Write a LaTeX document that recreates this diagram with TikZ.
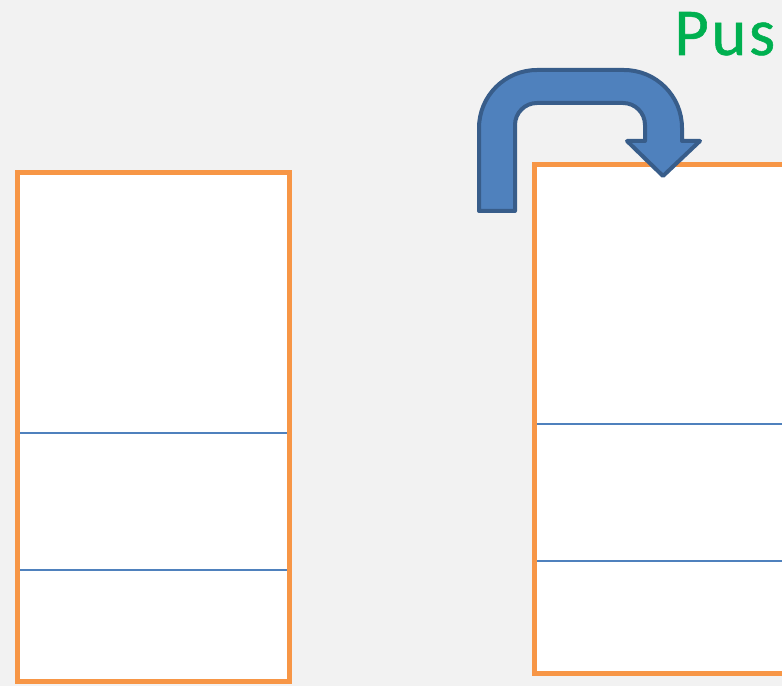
\documentclass[tikz,border=0pt]{standalone}
\usepackage{fontspec}
\setmainfont{Carlito}
\newfontfamily\pushfont[FakeBold=0.8]{Carlito}
\definecolor{bgc}{HTML}{F2F2F2}
\definecolor{orng}{HTML}{F79646}
\definecolor{blu}{HTML}{4F81BD}
\definecolor{bluedark}{HTML}{385D8A}
\definecolor{grn}{HTML}{00B050}
\begin{document}
\begin{tikzpicture}[x=1pt,y=1pt,
  stackbox/.style={draw=orng,line width=5pt},
  slotline/.style={draw=blu,line width=2.7pt},
  uarrow/.style={fill=blu,draw=bluedark,line width=4pt,line join=round},
  label/.style={text=grn,font=\pushfont\fontsize{67}{80}\selectfont,inner sep=0pt,anchor=base west}]
\useasboundingbox (0,0) rectangle (782,686);
\clip (0,0) rectangle (782,686);
\fill[bgc] (0,0) rectangle (782,686);
% left stack
\fill[white] (17,4.5) rectangle (289.5,513);
\draw[slotline] (17,253) -- (289.5,253);
\draw[slotline] (17,116) -- (289.5,116);
\draw[stackbox] (17,4.5) rectangle (289.5,513);
% right stack
\fill[white] (534.5,13) rectangle (800,521);
\draw[slotline] (534.5,262) -- (800,262);
\draw[slotline] (534.5,125) -- (800,125);
\draw[stackbox] (534.5,13) rectangle (800,521);
% u-turn arrow
\draw[uarrow] (479,475) -- (479,558) arc[start angle=180,end angle=90,radius=58pt]
  -- (624,616) arc[start angle=90,end angle=0,radius=58pt]
  -- (682,545) -- (700,545) -- (663,510) -- (627,545) -- (645,545)
  -- (645,561) arc[start angle=0,end angle=90,radius=22pt]
  -- (537,583) arc[start angle=90,end angle=180,radius=22pt]
  -- (515,475) -- cycle;
\node[label] (push) at (674,631) {P\kern2.5pt u\kern2.5pt s};
\end{tikzpicture}
\end{document}
